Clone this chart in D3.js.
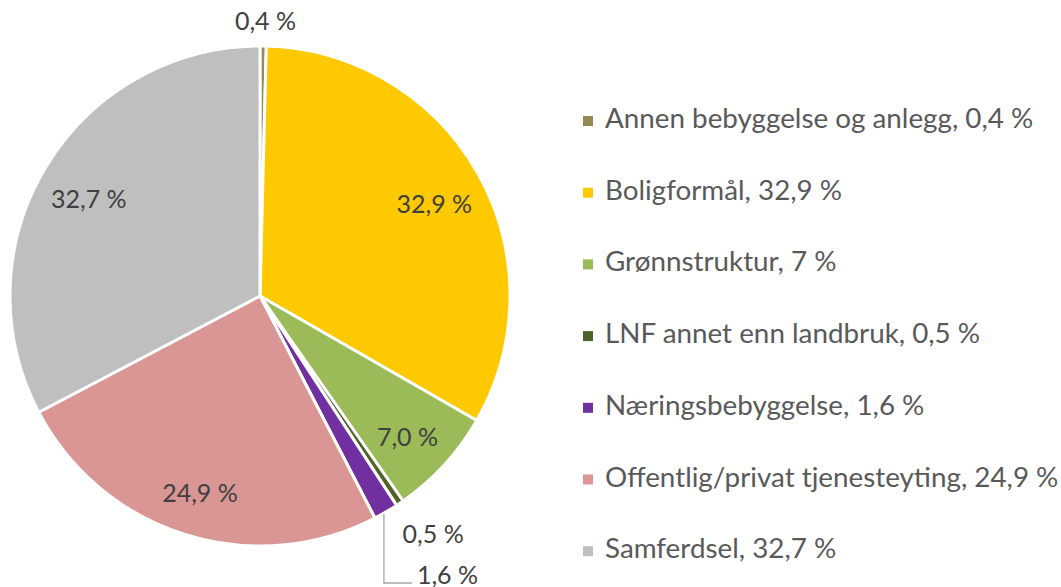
<!DOCTYPE html>
<html>
<head>
<meta charset="utf-8">
<script src="https://cdn.jsdelivr.net/npm/d3@7"></script>
<style>
  body { margin: 0; background: #fff; }
  text { font-family: Lato, "Open Sans", sans-serif; }
</style>
</head>
<body>
<div id="pie-chart"></div>
<script>
// data
const categories = ["Annen bebyggelse og anlegg", "Boligformål", "Grønnstruktur",
  "LNF annet enn landbruk", "Næringsbebyggelse", "Offentlig/privat tjenesteyting", "Samferdsel"];
const values = [0.4, 32.9, 7.0, 0.5, 1.6, 24.9, 32.7];
const legendValues = ["0,4", "32,9", "7", "0,5", "1,6", "24,9", "32,7"];
const colors = ["#948A54", "#FFC900", "#9BBB59", "#4F6228", "#7030A0", "#DA9694", "#BFBFBF"];

let width = 1061,
    height = 587,
    cx = 260, cy = 296,
    radius = 250;

const svg = d3.select("#pie-chart")
  .append("svg")
  .attr("width", width)
  .attr("height", height)
  .attr("viewBox", [0, 0, width, height]);

let data = categories.map((c, i) => ({ name: c, value: values[i], color: colors[i], legend: legendValues[i] }));

let pie = d3.pie().sort(null).value(d => d.value);
let arcs = pie(data);

let arc = d3.arc().innerRadius(0).outerRadius(radius);

let g = svg.append("g").attr("transform", `translate(${cx},${cy})`);

g.selectAll("path")
  .data(arcs)
  .join("path")
  .attr("d", arc)
  .attr("fill", d => d.data.color)
  .attr("stroke", "#fff")
  .attr("stroke-width", 3)
  .attr("stroke-linejoin", "round");

let fmt = v => d3.format(".1f")(v).replace(".", ",") + " %";

// inside labels for the big slices, outside for the tiny ones
let inside = d3.arc().innerRadius(200).outerRadius(200);
let outside = { 0: { r: 274, dx: 2 }, 3: { r: 288, dx: 12 } };
let labelSize = 25;

arcs.forEach((d, i) => {
  let p, dy;
  if (d.data.value >= 5) {
    p = inside.centroid(d);
    dy = 9;
  } else if (outside[i]) {
    let o = outside[i];
    p = d3.arc().innerRadius(o.r).outerRadius(o.r).centroid(d);
    p[0] += o.dx;
    dy = 2;
  } else {
    // leader line label (1,6 %)
    let a = (d.startAngle + d.endAngle) / 2;
    let x0 = Math.sin(a) * (radius + 2) - 3, y0 = -Math.cos(a) * (radius + 2);
    let yEnd = 287;
    g.append("path")
      .attr("d", d3.line()([[x0, y0], [x0, yEnd], [x0 + 28, yEnd]]))
      .attr("fill", "none")
      .attr("stroke", "#a6a6a6")
      .attr("stroke-width", 1.3);
    g.append("text")
      .attr("x", x0 + 33)
      .attr("y", yEnd - 5)
      .attr("dominant-baseline", "middle")
      .attr("font-size", labelSize)
      .attr("fill", "#404040")
      .text(fmt(d.data.value));
    return;
  }
  g.append("text")
    .attr("x", p[0])
    .attr("y", p[1] + dy)
    .attr("text-anchor", "middle")
    .attr("dominant-baseline", "middle")
    .attr("font-size", labelSize)
    .attr("fill", "#404040")
    .text(fmt(d.data.value));
});

// legend
let legend = svg.append("g").attr("transform", "translate(583,121)");
let rowH = 71.7;

let item = legend.selectAll("g")
  .data(data)
  .join("g")
  .attr("transform", (d, i) => `translate(0,${i * rowH})`);

item.append("rect")
  .attr("x", 0)
  .attr("y", -5)
  .attr("width", 10)
  .attr("height", 10)
  .attr("fill", d => d.color);

item.append("text")
  .attr("x", 22)
  .attr("y", 0)
  .attr("dominant-baseline", "middle")
  .attr("font-size", 27.8)
  .attr("fill", "#595959")
  .text(d => `${d.name}, ${d.legend} %`);
</script>
</body>
</html>
